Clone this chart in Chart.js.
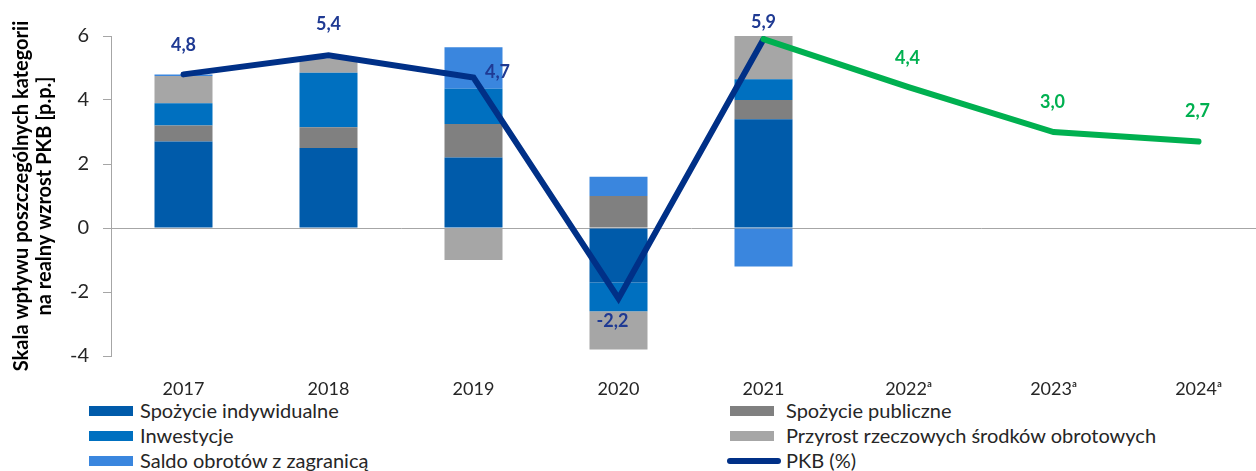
<!DOCTYPE html>
<html lang="pl">
<head>
<meta charset="UTF-8">
<title>PKB - dekompozycja wzrostu</title>
<script src="https://cdn.jsdelivr.net/npm/chart.js"></script>
<style>
    html, body { margin: 0; padding: 0; background: #fff; }
    body { width: 1256px; height: 471px; overflow: hidden; position: relative; font-family: Lato, "Open Sans", sans-serif; }
    .chart-box { position: absolute; left: 0; top: 0; width: 1276px; height: 396px; }
    .legend { position: absolute; top: 398px; font-size: 20px; color: #262626; }
    .legend div { height: 25px; line-height: 25px; display: flex; align-items: center; white-space: nowrap; }
    .legend .box { display: inline-block; width: 44px; height: 10px; margin-right: 7px; }
    .legend .line { display: inline-block; width: 54px; height: 6px; border-radius: 3px; margin-right: 5px; }
    #legendLeft { left: 89px; }
    #legendRight { left: 730px; }
    #legendRight .box { margin-right: 12px; }
</style>
</head>
<body>
    <div class="chart-box"><canvas id="gdpChart"></canvas></div>
    <div class="legend" id="legendLeft"></div>
    <div class="legend" id="legendRight"></div>

<script>
    // lata i wkłady do wzrostu PKB [p.p.]
    const years = ['2017', '2018', '2019', '2020', '2021', '2022\u1d43', '2023\u1d43', '2024\u1d43'];
    const spozycieInd = [2.7, 2.5, 2.2, -1.7, 3.4, null, null, null];
    const spozyciePubl = [0.5, 0.65, 1.05, 1.0, 0.6, null, null, null];
    const inwestycje = [0.7, 1.7, 1.1, -0.9, 0.65, null, null, null];
    const przyrost = [0.85, 0.45, -1.0, -1.2, 1.35, null, null, null];
    const saldo = [0.05, 0.0, 1.3, 0.6, -1.2, null, null, null];
    // PKB (%) - dane i prognoza
    const pkb = [4.8, 5.4, 4.7, -2.2, 5.9, null, null, null];
    const pkbPrognoza = [null, null, null, null, 5.9, 4.4, 3.0, 2.7];
    const yTicks = [-4, -2, 0, 2, 4, 6];

    const navy = '#003087';
    const green = '#00B050';

    const bar = (label, data, color) => ({
        type: 'bar', label, data, backgroundColor: color, stack: 'wklady', order: 2,
        categoryPercentage: 0.4, barPercentage: 1.0
    });

    // etykiety wartości nad linią PKB
    const labelOffsets = {
        0: [[0, -29], [0, -31], [24, -5], [-6, 23], [0, -17]],
        1: [null, null, null, null, null, [-1, -29], [-1, -30], [-1, -30]]
    };
    const valueLabels = {
        id: 'valueLabels',
        afterDatasetsDraw(chart) {
            const ctx = chart.ctx;
            ctx.save();
            ctx.font = 'bold 18px Lato, "Open Sans", sans-serif';
            ctx.textAlign = 'center';
            ctx.textBaseline = 'middle';
            [5, 6].forEach((di, k) => {
                const ds = chart.data.datasets[di];
                const meta = chart.getDatasetMeta(di);
                ctx.fillStyle = k === 0 ? '#1F3A93' : green;
                meta.data.forEach((pt, i) => {
                    const off = labelOffsets[k][i];
                    if (ds.data[i] == null || !off) return;
                    const txt = ds.data[i].toFixed(1).replace('.', ',');
                    ctx.fillText(txt, pt.x + off[0], pt.y + off[1]);
                });
            });
            ctx.restore();
        }
    };

    const ctx = document.getElementById('gdpChart').getContext('2d');
    const chart = new Chart(ctx, {
        data: {
            labels: years,
            datasets: [
                bar('Spożycie indywidualne', spozycieInd, '#005BAA'),
                bar('Spożycie publiczne', spozyciePubl, '#808080'),
                bar('Inwestycje', inwestycje, '#0070C0'),
                bar('Przyrost rzeczowych środków obrotowych', przyrost, '#A6A6A6'),
                bar('Saldo obrotów z zagranicą', saldo, '#3A86DE'),
                {
                    type: 'line', label: 'PKB (%)', data: pkb, borderColor: navy, borderWidth: 6,
                    pointRadius: 0, stack: 'pkb', order: 1, borderCapStyle: 'round', borderJoinStyle: 'miter', spanGaps: false
                },
                {
                    type: 'line', label: 'PKB prognoza', data: pkbPrognoza, borderColor: green, borderWidth: 6,
                    pointRadius: 0, stack: 'prognoza', order: 0, borderCapStyle: 'round', borderJoinStyle: 'miter'
                }
            ]
        },
        options: {
            responsive: true,
            maintainAspectRatio: false,
            animation: false,
            layout: { padding: { top: 36, right: 5, left: 0, bottom: 0 } },
            plugins: {
                legend: { display: false },
                tooltip: { enabled: false }
            },
            scales: {
                x: {
                    stacked: true,
                    grid: { display: false },
                    border: { display: false },
                    ticks: { color: '#262626', font: { family: 'Lato', size: 18 }, padding: 14 },
                    afterFit(scale) { scale.height = 40; }
                },
                y: {
                    stacked: true,
                    min: -4,
                    max: 6,
                    afterBuildTicks(scale) { scale.ticks = yTicks.map(v => ({ value: v })); },
                    afterFit(scale) { scale.width = 111; },
                    border: { display: true, color: '#A6A6A6', width: 1 },
                    grid: {
                        color: c => (c.tick && c.tick.value === 0 ? '#A6A6A6' : 'rgba(0,0,0,0)'),
                        tickColor: '#A6A6A6',
                        tickLength: 8,
                        lineWidth: 1
                    },
                    ticks: { color: '#262626', font: { family: 'Lato', size: 20 }, padding: 14 },
                    title: {
                        display: true,
                        text: ['Skala wpływu poszczególnych kategorii', 'na realny wzrost PKB [p.p.]'],
                        color: '#000',
                        font: { family: 'Lato', size: 20, weight: 'bold', lineHeight: 1.15 },
                        padding: { top: 10, bottom: 0 }
                    }
                }
            }
        },
        plugins: [valueLabels]
    });

    // legenda w dwóch kolumnach
    const legendLeft = [['Spożycie indywidualne', '#005BAA'], ['Inwestycje', '#0070C0'], ['Saldo obrotów z zagranicą', '#3A86DE']];
    const legendRight = [['Spożycie publiczne', '#808080'], ['Przyrost rzeczowych środków obrotowych', '#A6A6A6'], ['PKB (%)', navy, true]];
    function fillLegend(el, items) {
        items.forEach(([text, color, isLine]) => {
            const row = document.createElement('div');
            const sw = document.createElement('span');
            sw.className = isLine ? 'line' : 'box';
            sw.style.background = color;
            if (isLine) sw.style.marginLeft = '-3px';
            row.appendChild(sw);
            row.appendChild(document.createTextNode(text));
            el.appendChild(row);
        });
    }
    fillLegend(document.getElementById('legendLeft'), legendLeft);
    fillLegend(document.getElementById('legendRight'), legendRight);
</script>
</body>
</html>
